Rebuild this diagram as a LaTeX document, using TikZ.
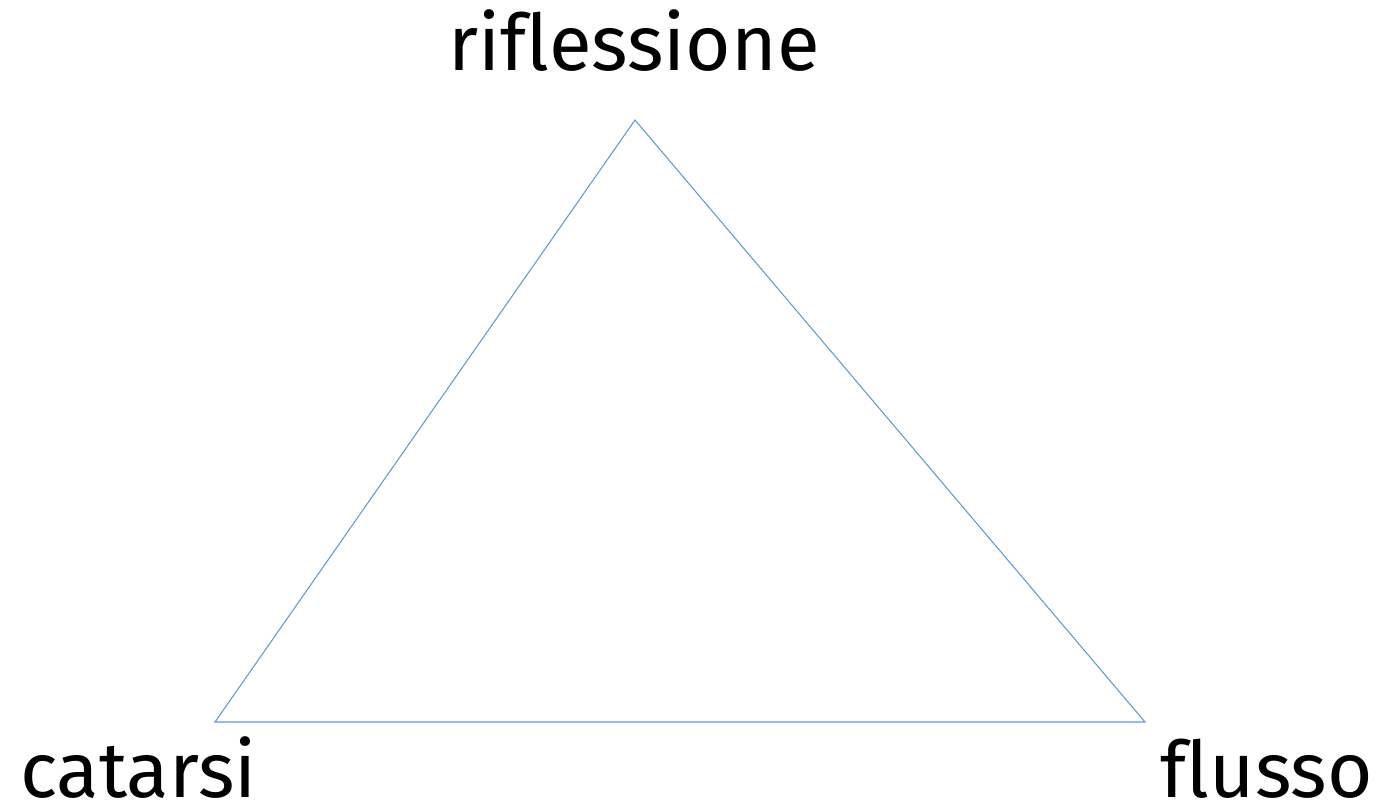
\documentclass[tikz,border=0pt]{standalone}
\usepackage{fontspec}
\setmainfont{Fira Sans}[Ligatures=NoCommon]
\usepackage{xcolor}
\definecolor{edgeblue}{RGB}{91, 155, 213}
\tikzset{
	vertexlabel/.style={font=\fontsize{44.4}{50}\selectfont, inner sep=0pt, anchor=base},
	sideline/.style={draw=edgeblue, line width=0.6pt, line join=miter}
}
\begin{document}
\begin{tikzpicture}[x=0.02cm, y=-0.02cm]
				\useasboundingbox (0,0) rectangle (1382,805);
				% Vertices
				\coordinate (top)   at (635, 120);
				\coordinate (left)  at (215, 722);
				\coordinate (right) at (1145, 722);

				% Triangle
				\draw[sideline] (top) -- (right) -- (left) -- cycle;

				% Vertex labels
				\node[vertexlabel] (riflessione) at (634, 70) {riflessione};
				\node[vertexlabel, anchor=base west] (catarsi) at (20, 797) {catarsi};
				\node[vertexlabel, anchor=base east] (flusso) at (1373, 797) {flusso};
\end{tikzpicture}
\end{document}
